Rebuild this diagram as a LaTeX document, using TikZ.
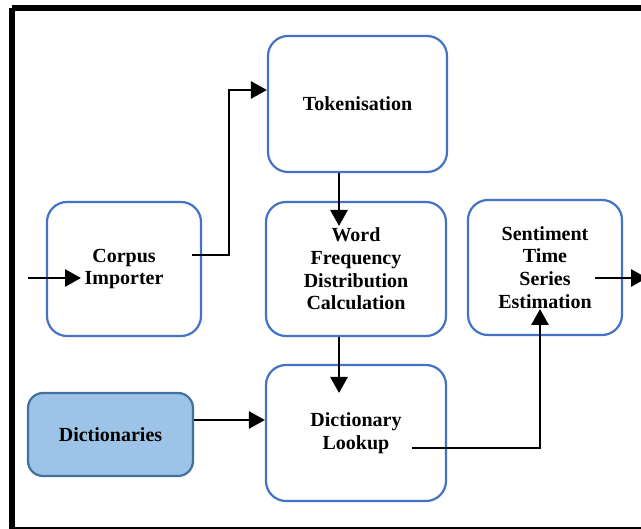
\documentclass[tikz,border=0pt]{standalone}
\usepackage{fontspec}
\setmainfont{Liberation Serif}
\usetikzlibrary{arrows.meta}
\definecolor{boxblue}{HTML}{4472C4}
\definecolor{dictfill}{HTML}{9DC3E6}
\definecolor{dictline}{HTML}{41719C}
\tikzset{
  procbox/.style={draw=boxblue, line width=2.2pt, rounded corners=20pt, fill=white,
    inner sep=0pt, align=center, font=\fontsize{20}{22.7}\selectfont\bfseries},
  srcbox/.style={draw=dictline, line width=2.2pt, rounded corners=15pt, fill=dictfill,
    inner sep=0pt, align=center, font=\fontsize{20}{22.7}\selectfont\bfseries},
  arr/.style={line width=2.8pt, -{Triangle[length=16pt,width=17pt]}},
  frame/.style={line width=5.5pt}
}
\begin{document}
\begin{tikzpicture}[x=1pt,y=-1pt]
\useasboundingbox (0,0) rectangle (641,529);
\fill[white] (0,0) rectangle (641,529);
\draw[frame] (12,8) -- (660,8) (12,8) -- (12,529.5) -- (660,529.5);

\node[procbox, minimum width=179pt, minimum height=136pt] (tok) at (357.5,104) {Tokenisation};
\node[procbox, minimum width=154pt, minimum height=134pt] (corpus) at (124,269) {Corpus\\Importer};
\node[procbox, minimum width=180pt, minimum height=134pt] (wfd) at (356,269) {Word\\Frequency\\Distribution\\Calculation};
\node[procbox, minimum width=154pt, minimum height=135pt] (sent) at (545,267.5) {Sentiment\\Time\\Series\\Estimation};
\node[srcbox, minimum width=165pt, minimum height=83pt] (dict) at (110.5,434.5) {Dictionaries};
\node[procbox, minimum width=180pt, minimum height=136pt] (look) at (356,433) {Dictionary\\Lookup};

\coordinate (inS) at (28,278);
\coordinate (inE) at (81,278);
\coordinate (c1) at (192,255);
\coordinate (c2) at (229,90);
\coordinate (vx) at (339,0);
\coordinate (t1) at (339,226);
\coordinate (t2) at (339,393);
\coordinate (dy) at (0,420);
\coordinate (l1) at (412,448);
\coordinate (s1) at (540,309);
\coordinate (o1) at (595,278);
\coordinate (o2) at (647,278);

\draw[arr] (inS) -- (inE);
\draw[arr] (c1) -- (c1 -| c2) -- (c2) -- (tok.west |- c2);
\draw[arr] (tok.south -| vx) -- (t1);
\draw[arr] (wfd.south -| vx) -- (t2);
\draw[arr] (dict.east |- dy) -- (look.west |- dy);
\draw[arr] (l1) -- (l1 -| s1) -- (s1);
\draw[arr] (o1) -- (o2);
\end{tikzpicture}
\end{document}
